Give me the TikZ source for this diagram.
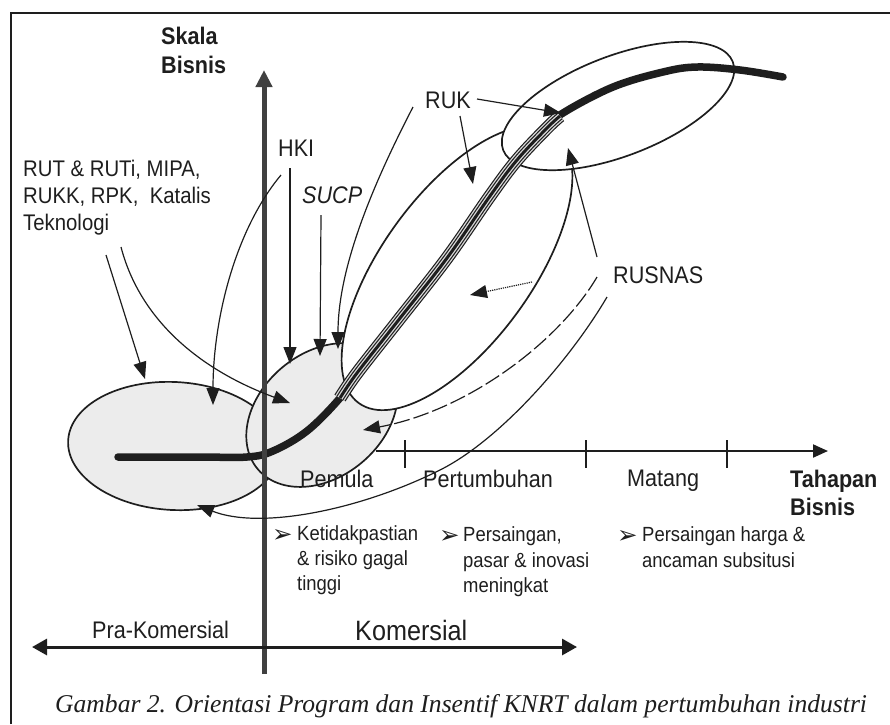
\documentclass[tikz,border=0pt]{standalone}
\usepackage{fontspec}
\setmainfont[FakeStretch=0.9]{Liberation Sans}
\newfontfamily\capfont{Liberation Serif}
\newfontfamily\symfont{DejaVu Sans}
\usetikzlibrary{arrows.meta}
\definecolor{ink}{HTML}{1E1E1E}
\definecolor{shade}{HTML}{ECECEC}
\begin{document}
\begin{tikzpicture}[x=1pt,y=-1pt,
  lbl/.style={font=\fontsize{24}{28}\selectfont, inner sep=0pt, anchor=base west, text=ink},
  lblb/.style={lbl, font=\fontsize{24}{28}\selectfont\bfseries},
  lblr/.style={lbl, font=\fontsize{22.6}{27}\selectfont},
  lblk/.style={lbl, font=\fontsize{28}{32}\selectfont},
  bultxt/.style={lbl, font=\fontsize{20.5}{25}\selectfont},
  bulsym/.style={lbl, font=\symfont\fontsize{24.5}{27}\selectfont},
  captxt/.style={lbl, font=\capfont\itshape\fontsize{25.6}{30}\selectfont},
  conn/.style={draw=ink, line width=1.2pt, -{Triangle[length=17pt,width=13pt]}},
  ell/.style={draw=ink, line width=1.7pt},
  tick/.style={draw=ink, line width=1.5pt}]
\useasboundingbox (0,0) rectangle (890,724);

% frame
\draw[ink, line width=1.6pt] (11,724) -- (11,13) -- (890,13);

% ellipses
\path[ell, fill=shade, rotate around={-3:(174,446)}] (174,446) ellipse [x radius=106pt, y radius=64pt];
\path[ell, fill=shade, rotate around={40:(322,415)}] (322,415) ellipse [x radius=84pt, y radius=62pt];
\path[ell, fill=white, rotate around={54:(457,268)}] (457,268) ellipse [x radius=167pt, y radius=75pt];
\path[ell, fill=white, rotate around={21:(618,106)}] (618,106) ellipse [x radius=123pt, y radius=50pt];

% S-curve
\draw[ink, line width=7.5pt, line cap=round] plot[smooth, tension=0.6] coordinates {(118,457) (200,457) (247,457) (273,451) (307,431) (340,398) (357,373) (397,322) (447,258) (490,196) (517,160) (547,128) (563,113) (613,87) (663,72) (697,67) (740,70) (783,77)};
\foreach \w/\c in {13/ink, 10.6/gray!30, 8/ink, 5.6/gray!30, 3/ink}{
  \draw[\c, line width=\w pt] plot[smooth, tension=0.6] coordinates {(340,398) (357,373) (397,322) (447,258) (490,196) (517,160) (547,128) (560,116)};
}

% vertical axis
\coordinate (vb) at (264,674);
\coordinate (vt) at (264,70);
\draw[ink!85, line width=5pt, -{Triangle[length=17pt,width=16pt]}] (vb) -- (vt);

% horizontal axis
\coordinate (hs0) at (376,451);
\coordinate (hend) at (828,451);
\draw[ink, line width=2pt, -{Triangle[length=15pt,width=13pt]}] (hs0) -- (hend);
\coordinate (t1a) at (405,440); \coordinate (t1b) at (405,468);
\coordinate (t2a) at (586,440); \coordinate (t2b) at (586,468);
\coordinate (t3a) at (727,440); \coordinate (t3b) at (727,468);
\draw[tick] (t1a) -- (t1b);
\draw[tick] (t2a) -- (t2b);
\draw[tick] (t3a) -- (t3b);

% bottom double arrow
\coordinate (bl) at (32,647);
\coordinate (br) at (577,647);
\draw[ink, line width=3pt, {Triangle[length=15pt,width=16pt]}-{Triangle[length=15pt,width=16pt]}] (bl) -- (br);

% labels
\node[lblb] (skala) at (161,44) {Skala};
\node[lblb] (skalab) at (161,73) {Bisnis};
\node[lblr] (rut1) at (23,176) {RUT \& RUTi, MIPA,};
\node[lblr] (rut2) at (23,203) {RUKK, RPK,\ \ Katalis};
\node[lblr] (rut3) at (23,230) {Teknologi};
\node[lbl] (hki) at (278,156) {HKI};
\node[lbl, font=\fontsize{24}{28}\selectfont\itshape] (sucp) at (302,203) {SUCP};
\node[lbl] (ruk) at (425,108) {RUK};
\node[lbl] (rusnas) at (613,283) {RUSNAS};
\node[lbl] (pemula) at (300,487) {Pemula};
\node[lbl] (pert) at (423,487) {Pertumbuhan};
\node[lbl] (matang) at (627,486) {Matang};
\node[lblb] (tahapan) at (790,487) {Tahapan};
\node[lblb] (tahapanb) at (790,515) {Bisnis};

\node[bulsym] (bs1) at (272,542) {➢};
\node[bultxt] (k1) at (297,540) {Ketidakpastian};
\node[bultxt] (k2) at (297,565) {\& risiko gagal};
\node[bultxt] (k3) at (297,590) {tinggi};
\node[bulsym] (bs2) at (439,543) {➢};
\node[bultxt] (p1) at (463,541) {Persaingan,};
\node[bultxt] (p2) at (463,567) {pasar \& inovasi};
\node[bultxt] (p3) at (463,592) {meningkat};
\node[bulsym] (bs3) at (617,543) {➢};
\node[bultxt] (m1) at (642,541) {Persaingan harga \&};
\node[bultxt] (m2) at (642,567) {ancaman subsitusi};

\node[lbl] (pra) at (92,638) {Pra-Komersial};
\node[lblk] (kom) at (355,640) {Komersial};
\node[captxt] (cap) at (55,712) {Gambar 2. Orientasi Program dan Insentif KNRT dalam pertumbuhan industri};

% connectors from RUT group
\coordinate (a1s) at (106,255); \coordinate (a1e) at (145,379);
\draw[conn] (a1s) -- (a1e);
\coordinate (a2s) at (121,247); \coordinate (a2e) at (290,403);
\draw[conn] (a2s) .. controls (140,320) and (200,370) .. (a2e);
% HKI
\coordinate (h0) at (281,175); \coordinate (h0e) at (213,405);
\draw[conn] (h0) .. controls (235,230) and (213,320) .. (h0e);
\coordinate (hk1) at (290,168); \coordinate (hk2) at (290,364);
\draw[conn] (hk1) -- (hk2);
% SUCP
\coordinate (su1) at (321,215); \coordinate (su2) at (320,356);
\draw[conn] (su1) -- (su2);
% RUK
\coordinate (rc3s) at (413,107); \coordinate (rc3e) at (338,349);
\draw[conn] (rc3s) .. controls (370,190) and (338,270) .. (rc3e);
\coordinate (r1s) at (477,99); \coordinate (r1e) at (561,113);
\draw[conn] (r1s) -- (r1e);
\coordinate (r2s) at (460,116); \coordinate (r2e) at (473,184);
\draw[conn] (r2s) -- (r2e);
% RUSNAS
\coordinate (d1s) at (597,257); \coordinate (d1e) at (568,148);
\draw[conn] (d1s) -- (d1e);
\coordinate (d2s) at (532,282); \coordinate (d2e) at (470,295);
\draw[conn, densely dotted] (d2s) -- (d2e);
\coordinate (d3s) at (597,277); \coordinate (d3e) at (363,430);
\draw[conn, dash pattern=on 16pt off 4pt] (d3s) .. controls (560,340) and (470,410) .. (d3e);
\coordinate (d4s) at (607,297); \coordinate (d4m) at (440,470); \coordinate (d4e) at (197,505);
\draw[conn] (d4s) .. controls (570,360) and (500,440) .. (d4m) .. controls (360,510) and (260,530) .. (d4e);
\end{tikzpicture}
\end{document}
